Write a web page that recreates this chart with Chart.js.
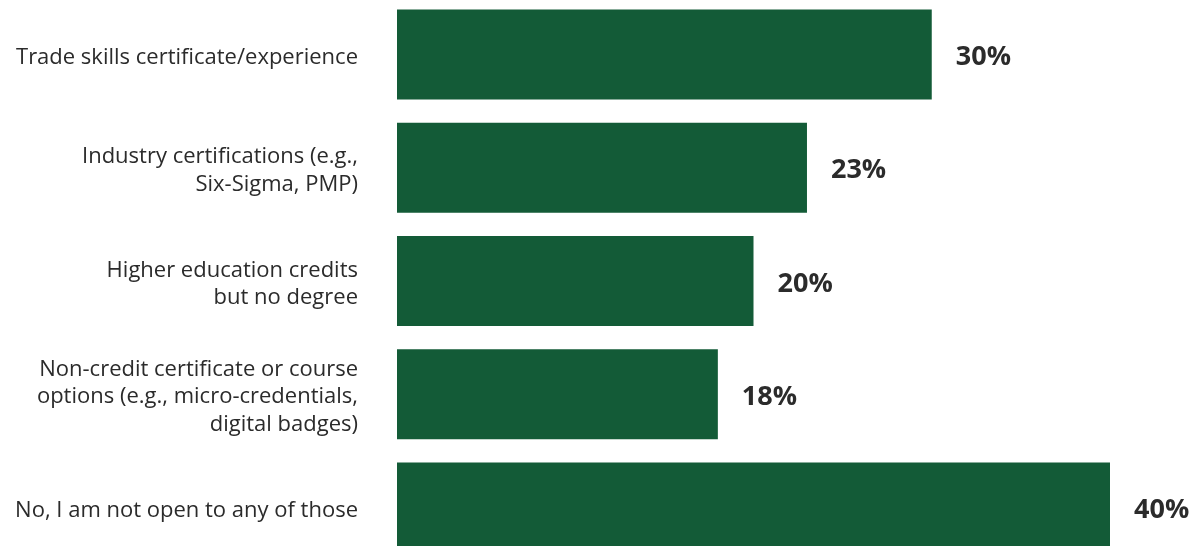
<!DOCTYPE html>
<html>
<head>
<meta charset="utf-8">
<script src="https://cdn.jsdelivr.net/npm/chart.js@4/dist/chart.umd.min.js"></script>
<style>
  html, body { margin: 0; padding: 0; background: #fff; overflow: hidden; }
  #wrap { position: absolute; left: 0; top: -2px; width: 1194px; height: 566px; }
</style>
</head>
<body>
<div id="wrap"><canvas id="graficoBarras"></canvas></div>
<script>
// categorias (uma linha por item do array)
const categorias = [
    ['Trade skills certificate/experience'],
    ['Industry certifications (e.g.,', 'Six-Sigma, PMP)'],
    ['Higher education credits', 'but no degree'],
    ['Non-credit certificate or course', 'options (e.g., micro-credentials,', 'digital badges)'],
    ['No, I am not open to any of those']
];
const valores = [30, 23, 20, 18, 40];

const corBarra = '#135b37';
const corTexto = '#2b2b2b';

const ctx = document.getElementById('graficoBarras').getContext('2d');

new Chart(ctx, {
    type: 'bar',
    data: {
        labels: categorias,
        datasets: [{
            data: valores,
            backgroundColor: corBarra,
            borderWidth: 0,
            barPercentage: 1,
            categoryPercentage: 0.795
        }]
    },
    options: {
        indexAxis: 'y',
        responsive: true,
        maintainAspectRatio: false,
        animation: false,
        layout: { padding: { top: 0, right: 84, bottom: 0, left: 0 } },
        plugins: {
            legend: { display: false },
            tooltip: { enabled: false }
        },
        scales: {
            x: {
                display: false,
                min: 0,
                max: 40
            },
            y: {
                grid: { display: false, drawTicks: false },
                border: { display: false },
                ticks: {
                    color: corTexto,
                    padding: 39,
                    labelOffset: 3,
                    font: { family: '"Open Sans"', size: 22, lineHeight: 1.24 }
                },
                afterFit(scale) {
                    scale.width = 397; // largura fixa da coluna de rótulos
                    scale.paddingTop = 0;
                    scale.paddingBottom = 0;
                }
            }
        }
    },
    plugins: [{
        // escreve o percentual ao lado de cada barra
        id: 'rotulosValor',
        afterDatasetsDraw(chart) {
            const { ctx } = chart;
            const meta = chart.getDatasetMeta(0);
            ctx.save();
            ctx.font = 'bold 27px "Open Sans"';
            ctx.fillStyle = corTexto;
            ctx.textAlign = 'left';
            ctx.textBaseline = 'middle';
            meta.data.forEach((barra, i) => {
                ctx.fillText(valores[i] + '%', barra.x + 24, barra.y + 3);
            });
            ctx.restore();
        }
    }]
});
</script>
</body>
</html>
